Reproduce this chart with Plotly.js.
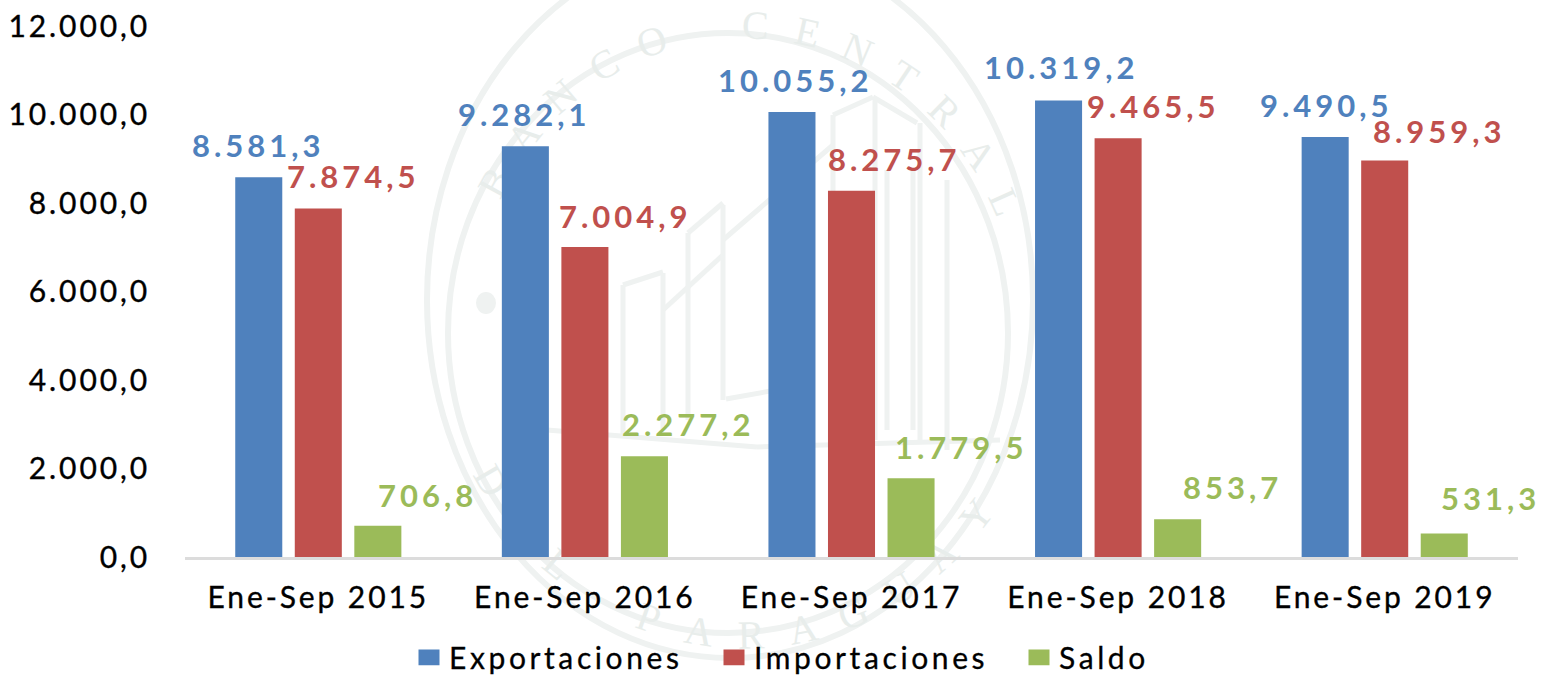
<!DOCTYPE html>
<html><head><meta charset="utf-8">
<script src="https://cdn.plot.ly/plotly-3.0.1.min.js"></script>
<style>
html,body{margin:0;padding:0;background:#fff}
.xtick text,.ytick text{letter-spacing:2.9px;stroke:#000;stroke-width:.35px}
.legendtext{letter-spacing:3.6px;stroke:#000;stroke-width:.3px}
.annotation-text{letter-spacing:4px}
.legendpoints path{transform:translate(20px,0) scale(1.75,1.3)}
</style></head>
<body><div id="chart" style="width:1541px;height:677px"></div>
<script>
const categories=["Ene-Sep 2015","Ene-Sep 2016","Ene-Sep 2017","Ene-Sep 2018","Ene-Sep 2019"];
const exportaciones=[8581.3,9282.1,10055.2,10319.2,9490.5];
const importaciones=[7874.5,7004.9,8275.7,9465.5,8959.3];
const saldo=[706.8,2277.2,1779.5,853.7,531.3];
const labelsExp=["8.581,3","9.282,1","10.055,2","10.319,2","9.490,5"];
const labelsImp=["7.874,5","7.004,9","8.275,7","9.465,5","8.959,3"];
const labelsSal=["706,8","2.277,2","1.779,5","853,7","531,3"];
const tickVals=[0,2000,4000,6000,8000,10000,12000];
const tickText=["0,0","2.000,0","4.000,0","6.000,0","8.000,0","10.000,0","12.000,0"];
const sealTop="BANCO CENTRAL";
const sealBottom="DEL PARAGUAY";

const F="Lato, 'Open Sans', sans-serif";
const colors={exp:"#4f81bd",imp:"#c0504d",sal:"#9bbb59"};
// label nudges from the category centre / bar top, in pixels
const shiftExp=[[-60,32],[-60,32],[-56,32],[-57,33],[-58,32]];
const shiftImp=[[35,33],[41,31],[43,32],[35,32],[55,30]];
const shiftSal=[[109,31],[104,32],[110,31],[114,32],[106,35]];

const L=185,T=26,W=1333,H=531;
const px=x=>(x-L)/W, py=y=>(T+H-y)/H;
const SEAL="#eff2f1";
const shapes=[];
function ring(cx,cy,rx,ry,w){shapes.push({type:"circle",xref:"paper",yref:"paper",layer:"below",
 x0:px(cx-rx),x1:px(cx+rx),y0:py(cy+ry),y1:py(cy-ry),line:{color:SEAL,width:w}});}
ring(730,300,303,358,6);
ring(728,333,280,300,6);
// seal building, drawn as a faint backdrop
const sealSegments=[[833,115,873,97],[873,97,917,123],[833,115,833,440],[875,97,875,440],[920,123,920,440],[947,180,947,450],
 [887,170,887,430],[913,170,913,430],[723,205,723,400],[688,233,688,420],[663,273,663,430],[623,285,623,435],
 [723,240,833,145],[663,310,723,255],[623,285,663,272],[688,233,723,203],[726,399,793,387],[547,430,757,447],[757,447,1000,440]];
sealSegments.forEach(s=>shapes.push({type:"line",xref:"paper",yref:"paper",layer:"below",
 x0:px(s[0]),y0:py(s[1]),x1:px(s[2]),y1:py(s[3]),line:{color:SEAL,width:5}}));
shapes.push({type:"circle",xref:"paper",yref:"paper",layer:"below",x0:px(476),x1:px(496),y0:py(314),y1:py(292),
 fillcolor:SEAL,line:{width:0}});
function letter(ch,phiDeg,top){
 const p=phiDeg*Math.PI/180,x=745+289*Math.cos(p),y=326+305*Math.sin(p);
 shapes.push({type:"rect",xref:"paper",yref:"paper",layer:"below",x0:px(x-1),x1:px(x+1),y0:py(y+1),y1:py(y-1),
  fillcolor:"rgba(0,0,0,0)",line:{width:0},
  label:{text:ch,textposition:"middle center",textangle:top?phiDeg+90:phiDeg-90,font:{family:"Liberation Serif",size:40,color:"#e8edeb"}}});
}
[...sealTop].forEach((c,i)=>{if(c!==" ")letter(c,-151.5+i*10.6,true);});
[...sealBottom].forEach((c,i)=>{if(c!==" ")letter(c,150-i*10.2,false);});

function bar(name,y,color){return {type:"bar",name,x:categories,y,marker:{color},hoverinfo:"x+y"};}
function notes(vals,labels,shift,color){return vals.map((v,i)=>({x:categories[i],y:v,xref:"x",yref:"y",text:labels[i],
 showarrow:false,xanchor:"center",yanchor:"middle",xshift:shift[i][0],yshift:shift[i][1],
 font:{family:F,size:31,weight:700,color}}));}

Plotly.newPlot("chart",[bar("Exportaciones",exportaciones,colors.exp),bar("Importaciones",importaciones,colors.imp),bar("Saldo",saldo,colors.sal)],{
 width:1541,height:677,margin:{l:L,r:1541-L-W,t:T,b:677-T-H,autoexpand:false},paper_bgcolor:"#fff",plot_bgcolor:"rgba(0,0,0,0)",
 barmode:"group",bargap:0.33,bargroupgap:0.21,
 font:{family:F,color:"#000"},
 shapes,
 annotations:[...notes(exportaciones,labelsExp,shiftExp,colors.exp),...notes(importaciones,labelsImp,shiftImp,colors.imp),...notes(saldo,labelsSal,shiftSal,colors.sal)],
 xaxis:{type:"category",range:[-0.5,4.5],showline:true,linecolor:"#dcdcdc",linewidth:3,ticks:"",ticklabelstandoff:12,tickfont:{family:F,size:30,color:"#000"}},
 yaxis:{range:[0,12000],tickvals:tickVals,ticktext:tickText,showgrid:false,zeroline:false,ticks:"",ticklabelstandoff:34,tickfont:{family:F,size:30,color:"#000"}},
 legend:{orientation:"h",x:409/1541,xanchor:"left",xref:"container",yref:"container",y:0.029,yanchor:"middle",
  entrywidth:260,entrywidthmode:"pixels",font:{family:F,size:30,color:"#000"},bgcolor:"rgba(0,0,0,0)"},
 showlegend:true
},{displayModeBar:false});
</script></body></html>
